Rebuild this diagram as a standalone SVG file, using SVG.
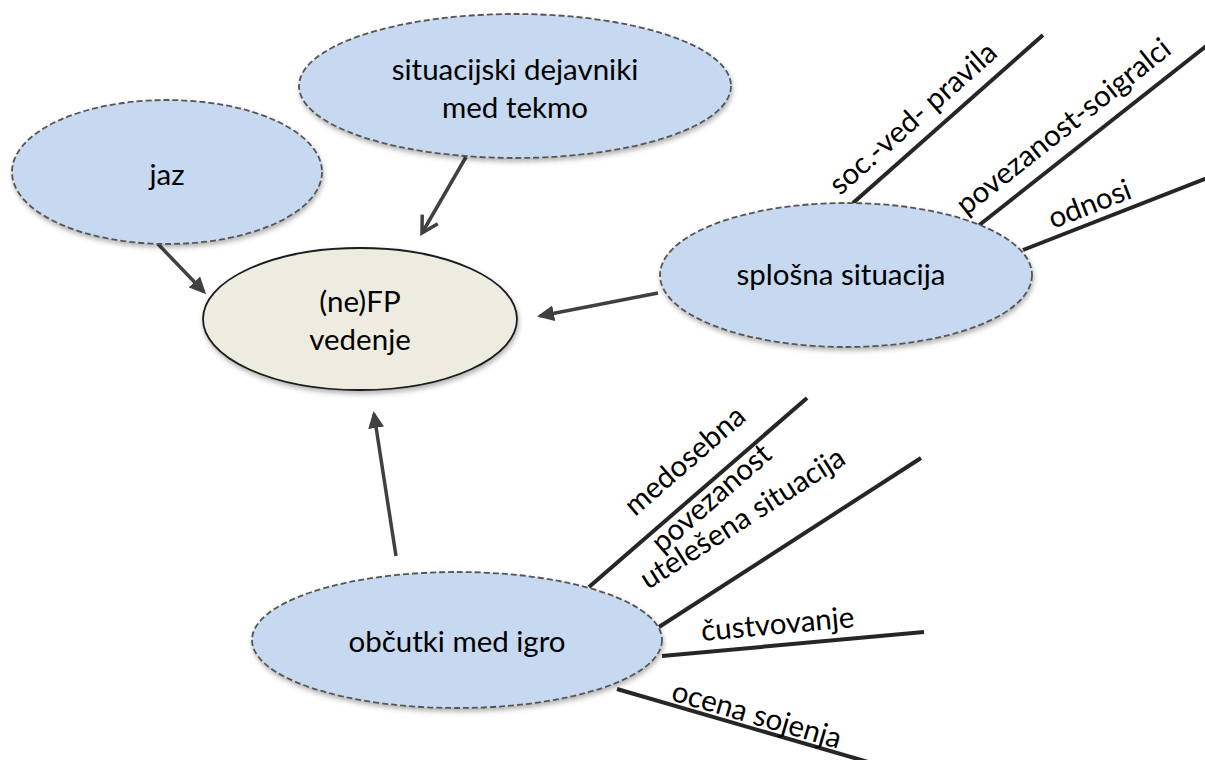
<svg xmlns="http://www.w3.org/2000/svg" width="1205" height="760" viewBox="0 0 1205 760">
<style>
.node{fill:#c6d9f0;stroke:#555;stroke-width:1.8;stroke-dasharray:6 3;filter:url(#sh)}
.main{fill:#eeece1;stroke:#1a1a1a;stroke-width:1.8;filter:url(#sh)}
.t{font-family:Lato,"Liberation Sans",sans-serif;font-size:29.5px;fill:#000;text-anchor:middle}
.l{font-family:Lato,"Liberation Sans",sans-serif;font-size:29.5px;fill:#000}
.arr{stroke:#404040;stroke-width:3.5;fill:none}
.ray{stroke:#262626;stroke-width:4;fill:none}
</style>
<defs>
<filter id="sh" x="-10%" y="-10%" width="125%" height="130%">
<feDropShadow dx="1" dy="3" stdDeviation="2.5" flood-color="#000" flood-opacity="0.3"/>
</filter>
<marker id="tri" markerUnits="userSpaceOnUse" markerWidth="18" markerHeight="16" refX="14" refY="8" orient="auto">
<path d="M0,0 L17,8 L0,16 z" fill="#404040"/>
</marker>
<marker id="chev" markerUnits="userSpaceOnUse" markerWidth="22" markerHeight="22" refX="18" refY="11" orient="auto">
<path d="M2,2 L18,11 L2,20" fill="none" stroke="#404040" stroke-width="3.5"/>
</marker>
</defs>
<g id="connectors">
<line class="arr" x1="158" y1="244" x2="204" y2="292" marker-end="url(#tri)"/>
<line class="arr" x1="466" y1="157" x2="422" y2="233" marker-end="url(#chev)"/>
<line class="arr" x1="658" y1="293" x2="540" y2="316" marker-end="url(#tri)"/>
<line class="arr" x1="396" y1="556" x2="374" y2="414" marker-end="url(#tri)"/>
<line class="ray" x1="853" y1="203" x2="1043" y2="35"/>
<line class="ray" x1="973" y1="230" x2="1210" y2="43"/>
<line class="ray" x1="1023" y1="250" x2="1210" y2="177"/>
<line class="ray" x1="589" y1="587" x2="807" y2="398"/>
<line class="ray" x1="659" y1="627" x2="921" y2="458"/>
<line class="ray" x1="662" y1="656" x2="924" y2="632"/>
<line class="ray" x1="617" y1="689" x2="875" y2="764"/>
</g>
<g id="labels">
<text class="l" transform="translate(840,196) rotate(-41.5)">soc.-ved- pravila</text>
<text class="l" transform="translate(966,216) rotate(-38.3)">povezanost-soigralci</text>
<text class="l" transform="translate(1053,229) rotate(-21.3)">odnosi</text>
<text class="l" transform="translate(635,517) rotate(-41)">medosebna</text>
<text class="l" transform="translate(662,554) rotate(-41)">povezanost</text>
<text class="l" transform="translate(648,590) rotate(-32.5)">utelešena situacija</text>
<text class="l" transform="translate(702,641) rotate(-5.2)">čustvovanje</text>
<text class="l" transform="translate(670,700) rotate(16.2)">ocena sojenja</text>
</g>
<g id="jaz">
<ellipse class="node" cx="167" cy="172" rx="155" ry="72"/>
<text class="t" x="167" y="185">jaz</text>
</g>
<g id="situacijski">
<ellipse class="node" cx="515" cy="86" rx="216" ry="72"/>
<text class="t" x="515" y="80">situacijski dejavniki</text>
<text class="t" x="515" y="118">med tekmo</text>
</g>
<g id="vedenje">
<ellipse class="main" cx="360" cy="319" rx="157" ry="71"/>
<text class="t" x="360" y="312">(ne)FP</text>
<text class="t" x="360" y="350">vedenje</text>
</g>
<g id="splosna">
<ellipse class="node" cx="846" cy="275" rx="186" ry="72"/>
<text class="t" x="841" y="285">splošna situacija</text>
</g>
<g id="obcutki">
<ellipse class="node" cx="457" cy="640" rx="205" ry="68"/>
<text class="t" x="457" y="652">občutki med igro</text>
</g>
</svg>
